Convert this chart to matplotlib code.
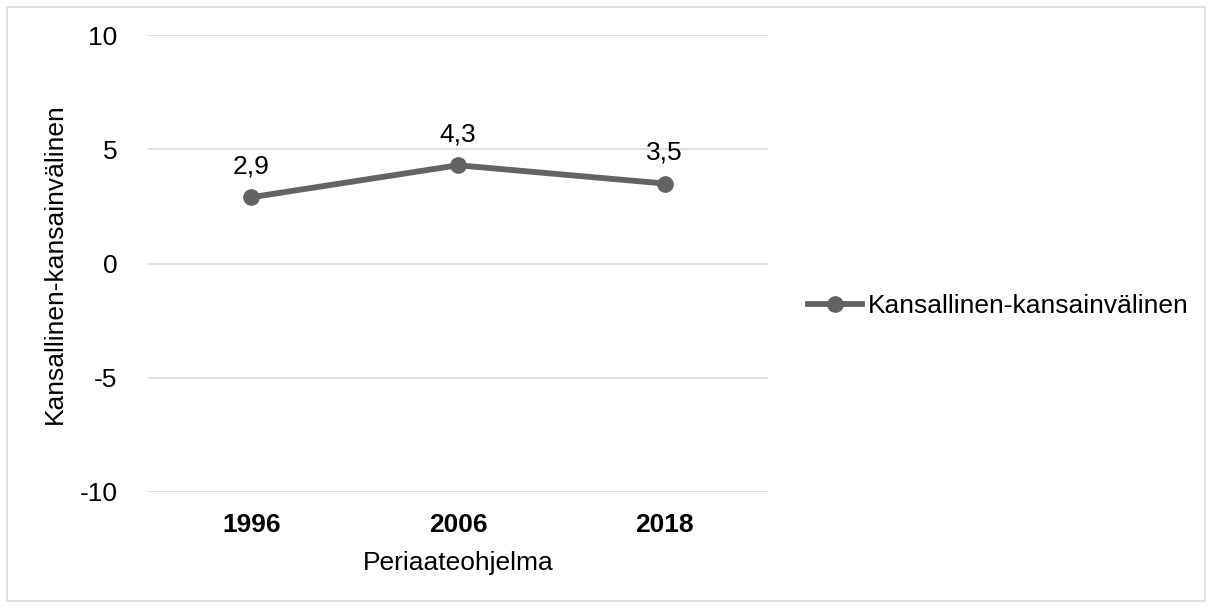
import matplotlib.pyplot as plt
from matplotlib.patches import Rectangle

plt.rcParams['font.family'] = ['Liberation Sans', 'DejaVu Sans']

years = ['1996', '2006', '2018']
values = [2.9, 4.3, 3.5]
value_labels = ['2,9', '4,3', '3,5']
series_name = 'Kansallinen-kansainvälinen'
y_ticks = [-10, -5, 0, 5, 10]

line_color = '#636363'
grid_color = '#d9d9d9'
fs = 19

fig = plt.figure(figsize=(12.12, 6.08), dpi=100)
fig.patches.append(Rectangle((0.006, 0.011), 0.988, 0.978, transform=fig.transFigure,
                             fill=False, edgecolor='#d9d9d9', linewidth=1.2))
ax = fig.add_axes([0.1221, 0.1908, 0.5116, 0.7516])

x = list(range(len(years)))
ax.plot(x, values, color=line_color, linewidth=4.2, marker='o', markersize=11,
        label=series_name, zorder=3)
for xi, v, lab in zip(x, values, value_labels):
    ax.annotate(lab, (xi, v), xytext=(0, 17), textcoords='offset points',
                ha='center', va='baseline', fontsize=fs)

ax.set_xlim(-0.5, 2.5)
ax.set_ylim(-10, 10)
ax.set_yticks(y_ticks)
ax.set_yticklabels([str(t) for t in y_ticks], fontsize=fs)
ax.set_xticks(x)
ax.set_xticklabels(years, fontsize=fs, fontweight='bold')
ax.tick_params(length=0)
ax.tick_params(axis='y', pad=22)
ax.tick_params(axis='x', pad=15)
ax.grid(axis='y', color=grid_color, linewidth=1.2)
ax.set_axisbelow(True)
for s in ax.spines.values():
    s.set_visible(False)

ax.set_xlabel('Periaateohjelma', fontsize=fs, labelpad=10)
ax.set_ylabel('Kansallinen-kansainvälinen', fontsize=fs, labelpad=9)

ax.legend(loc='center left', bbox_to_anchor=(1.0645, 0.407), frameon=False,
          fontsize=fs, handlelength=2.05, handletextpad=0.23,
          borderpad=0, borderaxespad=0)

fig.savefig('out.png', dpi=100)
